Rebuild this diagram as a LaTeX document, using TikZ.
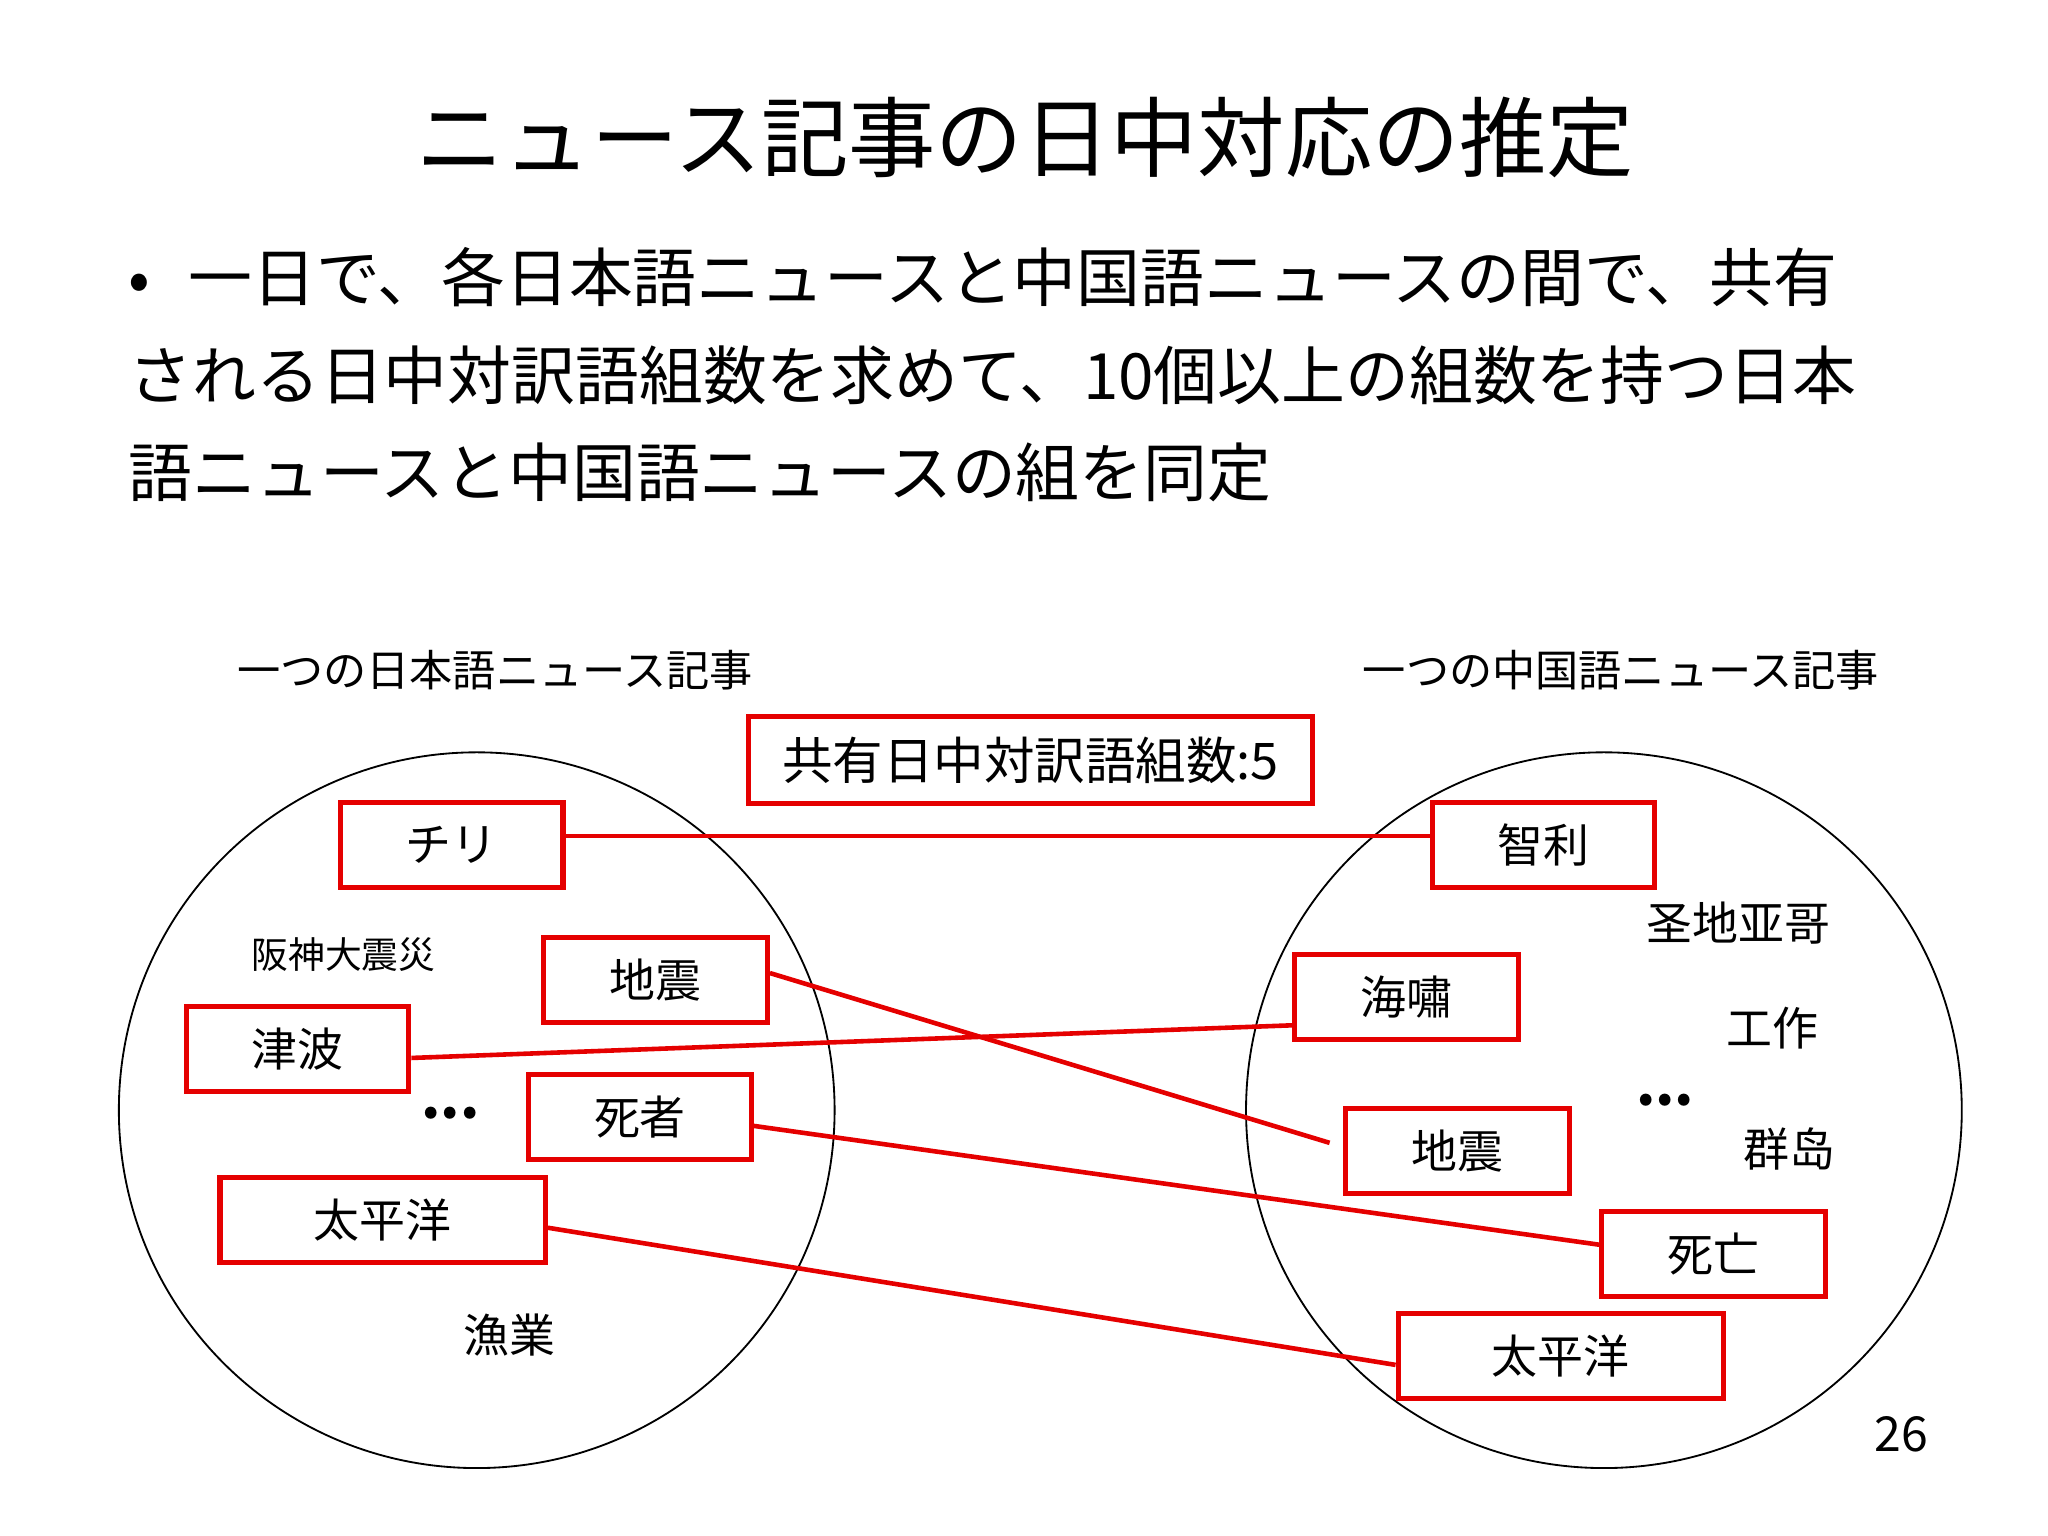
\documentclass[tikz,border=0pt]{standalone}
\usepackage{fontspec}
\setmainfont{Noto Sans CJK JP}
\usetikzlibrary{calc}
\begin{document}
\begin{tikzpicture}[x=0.01cm,y=-0.01cm,
  wbox/.style={draw=red!90!black,line width=1.1pt,minimum height=0.65cm,inner sep=0pt,font=\fontsize{10}{12}\selectfont},
  link/.style={draw=red!90!black,line width=1pt},
  plain/.style={font=\fontsize{10}{12}\selectfont,inner sep=0pt}]
\path[use as bounding box,fill=white] (0,0) rectangle (1568,1176);
\node (title) at (785,105) {\fontsize{19}{22}\selectfont ニュース記事の日中対応の推定};
\node[anchor=west,font=\fontsize{13.9}{16}\selectfont] (b1) at (86,212) {•\hspace{0.6em}一日で、各日本語ニュースと中国語ニュースの間で、共有};
\node[anchor=west,font=\fontsize{13.9}{16}\selectfont] (b2) at (86,287) {される日中対訳語組数を求めて、10個以上の組数を持つ日本};
\node[anchor=west,font=\fontsize{13.9}{16}\selectfont] (b3) at (86,362) {語ニュースと中国語ニュースの組を同定};
\node[font=\fontsize{9.4}{11}\selectfont] (lj) at (379,513) {一つの日本語ニュース記事};
\node[font=\fontsize{9.4}{11}\selectfont] (lc) at (1241,513) {一つの中国語ニュース記事};
\node[draw=red!90!black,line width=1.1pt,minimum width=4.31cm,minimum height=0.67cm,font=\fontsize{11}{13}\selectfont] (cnt) at (789,582) {共有日中対訳語組数:5};
\draw[line width=0.4pt] (365,850) circle (274);
\draw[line width=0.4pt] (1228,850) circle (274);
\node[wbox,minimum width=1.70cm] (chiri) at (346,647) {チリ};
\node[wbox,minimum width=1.70cm] (zhili) at (1182,647) {智利};
\node[wbox,minimum width=1.71cm] (jishinL) at (502,750) {地震};
\node[wbox,minimum width=1.70cm] (tsunami) at (228,803) {津波};
\node[wbox,minimum width=1.70cm] (shisha) at (490,855) {死者};
\node[wbox,minimum width=2.49cm] (tpyL) at (293,934) {太平洋};
\node[wbox,minimum width=1.71cm] (haixiao) at (1077,763) {海嘯};
\node[wbox,minimum width=1.71cm] (jishinR) at (1116,881) {地震};
\node[wbox,minimum width=1.71cm] (siwang) at (1312,960) {死亡};
\node[wbox,minimum width=2.49cm] (tpyR) at (1195,1038) {太平洋};
\node[font=\fontsize{8}{10}\selectfont] (hanshin) at (263,731) {阪神大震災};
\node[plain] (gyogyo) at (390,1022) {漁業};
\node[plain] (sheng) at (1331,707) {圣地亚哥};
\node[plain] (gongzuo) at (1357,787) {工作};
\node[plain] (qundao) at (1370,880) {群岛};
\node[font=\bfseries\fontsize{12}{14}\selectfont] (dotsL) at (345,852) {...};
\node[font=\bfseries\fontsize{12}{14}\selectfont] (dotsR) at (1275,842) {...};
\node[font=\fontsize{10.5}{12}\selectfont] (page) at (1456,1098) {26};
\coordinate (jend) at (1018,875);
\draw[link] ($(chiri.east)+(0,-7)$) -- ($(zhili.west)+(0,-7)$);
\draw[link] ($(jishinL.east)+(0,-5)$) -- (jend);
\draw[link] ($(tsunami.east)+(0,7)$) -- ($(haixiao.west)+(0,22)$);
\draw[link] ($(shisha.east)+(0,7)$) -- ($(siwang.west)+(0,-7)$);
\draw[link] ($(tpyL.east)+(0,6)$) -- ($(tpyR.west)+(0,7)$);
\end{tikzpicture}
\end{document}
